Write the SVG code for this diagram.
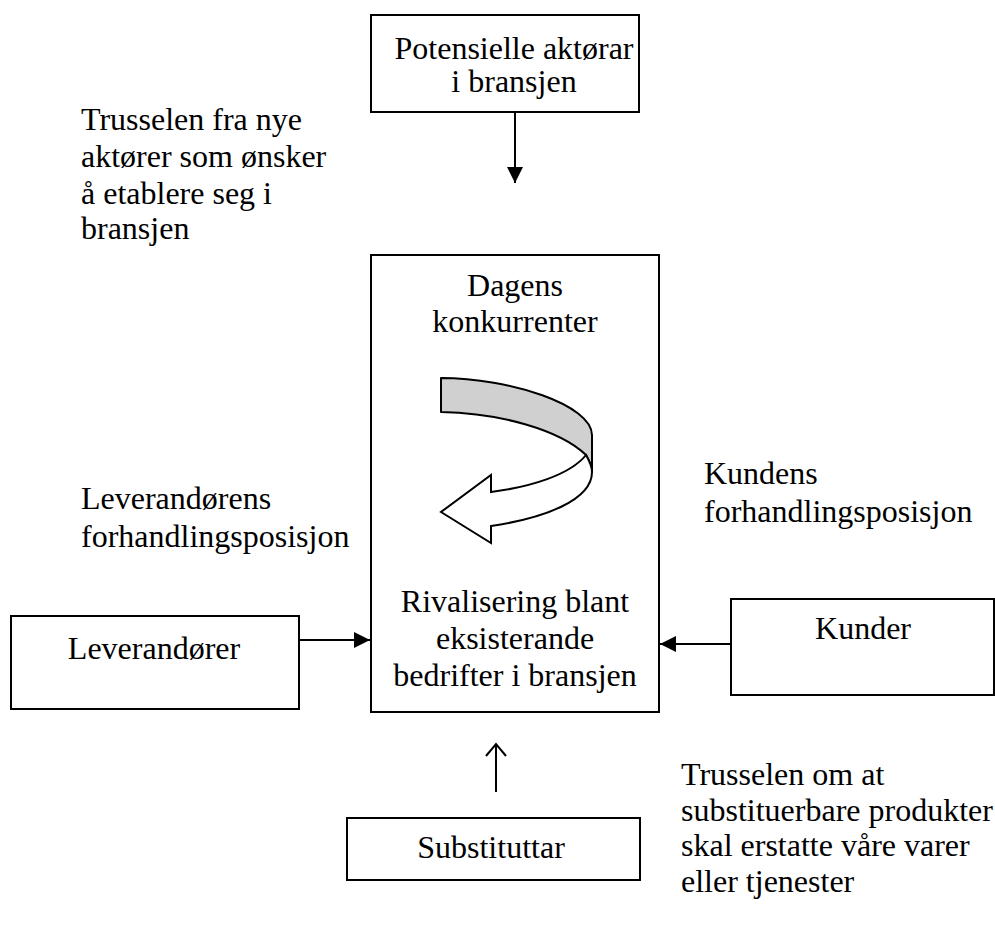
<svg xmlns="http://www.w3.org/2000/svg" width="995" height="929" viewBox="0 0 995 929">
<defs>
<style>
.box{fill:#fff;stroke:#000;stroke-width:2}
.t{font-family:"Liberation Serif","Times New Roman",serif;font-size:32px;fill:#000}
.c{text-anchor:middle}
.ln{stroke:#000;stroke-width:2;fill:none}
</style>
<marker id="ah" viewBox="0 0 16 16" refX="16" refY="8" markerWidth="16" markerHeight="16" orient="auto" markerUnits="userSpaceOnUse"><path d="M0,0 L16,8 L0,16 Z" fill="#000"/></marker>
<marker id="oa" viewBox="-2 -2 16 24" refX="12" refY="10" markerWidth="16" markerHeight="24" orient="auto" markerUnits="userSpaceOnUse"><path d="M0,0 L12,10 L0,20" fill="none" stroke="#000" stroke-width="2"/></marker>
</defs>
<rect width="995" height="929" fill="#fff"/>
<g id="connectors">
<line class="ln" x1="515" y1="112" x2="515" y2="183" marker-end="url(#ah)"/>
<line class="ln" x1="299" y1="640" x2="370" y2="640" marker-end="url(#ah)"/>
<line class="ln" x1="731" y1="644" x2="660" y2="644" marker-end="url(#ah)"/>
<line class="ln" x1="496" y1="792" x2="496" y2="744" marker-end="url(#oa)"/>
</g>
<g id="potensielle">
<rect class="box" x="371" y="15" width="268" height="97"/>
<text class="t c" x="514" y="59">Potensielle aktørar</text>
<text class="t c" x="514" y="92">i bransjen</text>
</g>
<g id="trussel-nye">
<text class="t" x="81" y="130">Trusselen fra nye</text>
<text class="t" x="81" y="167">aktører som ønsker</text>
<text class="t" x="81" y="204">å etablere seg i</text>
<text class="t" x="81" y="239">bransjen</text>
</g>
<g id="konkurrenter">
<rect class="box" x="371" y="255" width="288" height="457"/>
<text class="t c" x="515" y="296">Dagens</text>
<text class="t c" x="515" y="332">konkurrenter</text>
<path d="M441,378 C510,378 592,405 592,435 L592,472 C592,467 590,462 586,455 C560,430 500,413 441,412 Z" fill="#d0d0d0" stroke="#000" stroke-width="2" stroke-linejoin="round"/>
<path d="M586,455 C590,462 592,467 592,472 C592,500 545,518 491,526 L491,543 L441,512 L491,475 L491,492 C530,487 570,475 586,455 Z" fill="#fff" stroke="#000" stroke-width="2" stroke-linejoin="miter"/>
<text class="t c" x="515" y="612">Rivalisering blant</text>
<text class="t c" x="515" y="649">eksisterande</text>
<text class="t c" x="515" y="686">bedrifter i bransjen</text>
</g>
<g id="leverandorens">
<text class="t" x="81" y="509">Leverandørens</text>
<text class="t" x="81" y="547">forhandlingsposisjon</text>
</g>
<g id="leverandorer">
<rect class="box" x="11" y="616" width="288" height="93"/>
<text class="t c" x="154" y="659">Leverandører</text>
</g>
<g id="kundens">
<text class="t" x="704" y="484">Kundens</text>
<text class="t" x="704" y="522">forhandlingsposisjon</text>
</g>
<g id="kunder">
<rect class="box" x="731" y="599" width="263" height="96"/>
<text class="t c" x="863" y="639">Kunder</text>
</g>
<g id="substituttar">
<rect class="box" x="347" y="818" width="293" height="62"/>
<text class="t c" x="491" y="858">Substituttar</text>
</g>
<g id="trussel-sub">
<text class="t" x="681" y="785">Trusselen om at</text>
<text class="t" x="681" y="821">substituerbare produkter</text>
<text class="t" x="681" y="856">skal erstatte våre varer</text>
<text class="t" x="681" y="892">eller tjenester</text>
</g>
</svg>
